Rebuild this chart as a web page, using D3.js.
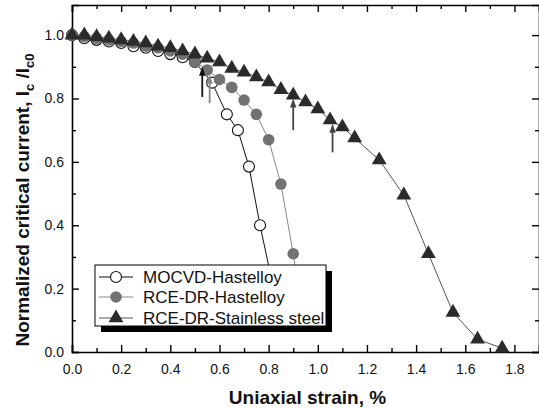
<!DOCTYPE html>
<html>
<head>
<meta charset="utf-8">
<script src="https://cdn.jsdelivr.net/npm/d3@7"></script>
<style>
  body { margin: 0; background: #fff; }
  svg { display: block; font-family: "Liberation Sans", Arial, sans-serif; }
</style>
</head>
<body>
<svg id="chart" width="539" height="408"></svg>
<script>
// MOCVD-Hastelloy (open circles)
var mocX = [0, 0.05, 0.1, 0.15, 0.2, 0.25, 0.3, 0.35, 0.4, 0.45, 0.5, 0.57, 0.63, 0.675, 0.72, 0.765, 0.82];
var mocY = [1.0, 0.99, 0.985, 0.98, 0.975, 0.965, 0.96, 0.95, 0.94, 0.93, 0.915, 0.85, 0.75, 0.70, 0.585, 0.40, 0.20];

// RCE-DR-Hastelloy (grey circles)
var hastX = [0, 0.05, 0.1, 0.15, 0.2, 0.25, 0.3, 0.35, 0.4, 0.45, 0.5, 0.55, 0.6, 0.65, 0.7, 0.75, 0.8, 0.85, 0.9, 0.93];
var hastY = [1.0, 0.995, 0.99, 0.985, 0.98, 0.975, 0.965, 0.96, 0.95, 0.94, 0.915, 0.89, 0.86, 0.835, 0.795, 0.75, 0.67, 0.53, 0.31, 0.15];

// RCE-DR-Stainless steel (triangles)
var steelX = [0, 0.05, 0.1, 0.15, 0.2, 0.25, 0.3, 0.35, 0.4, 0.45, 0.5, 0.55, 0.6, 0.65, 0.7, 0.75, 0.8, 0.85, 0.9, 0.95, 1.0, 1.05, 1.1, 1.15, 1.25, 1.35, 1.45, 1.55, 1.65, 1.75];
var steelY = [1.0, 1.0, 0.995, 0.99, 0.985, 0.98, 0.975, 0.965, 0.96, 0.95, 0.94, 0.927, 0.915, 0.895, 0.883, 0.868, 0.852, 0.828, 0.81, 0.789, 0.767, 0.732, 0.71, 0.675, 0.606, 0.495, 0.31, 0.125, 0.04, 0.012];

// arrows marking onset strains
var arrowX = [0.53, 0.56, 0.90, 1.06];
var arrowLo = [0.805, 0.785, 0.70, 0.63];
var arrowHi = [0.90, 0.875, 0.80, 0.72];
var arrowCol = ["#111", "#888", "#444", "#444"];

var legendNames = ["MOCVD-Hastelloy", "RCE-DR-Hastelloy", "RCE-DR-Stainless steel"];

var xMajor = [0, 0.2, 0.4, 0.6, 0.8, 1.0, 1.2, 1.4, 1.6, 1.8];
var xMinor = [0.1, 0.3, 0.5, 0.7, 0.9, 1.1, 1.3, 1.5, 1.7];
var yMajor = [0, 0.2, 0.4, 0.6, 0.8, 1.0];
var yMinor = [0.1, 0.3, 0.5, 0.7, 0.9];

var svg = d3.select("#chart");
var L = 72, R = 539, T = 5, B = 352;

var x = d3.scaleLinear().domain([0, 1.9]).range([L, R]);
var y = d3.scaleLinear().domain([0, 1.095]).range([B, T]);

function zip(xs, ys) { return xs.map(function(v, i) { return [v, ys[i]]; }); }
var moc = zip(mocX, mocY), hast = zip(hastX, hastY), steel = zip(steelX, steelY);

var line = d3.line().x(function(d) { return x(d[0]); }).y(function(d) { return y(d[1]); });

// axes, ticks inward on every side
var fmt = d3.format(".1f");
function addAxis(gen, tr, major, minor, labels) {
  var g = svg.append("g").attr("transform", tr);
  g.call(gen.tickValues(major).tickSize(-7).tickPadding(labels ? 12 : 0)
    .tickFormat(labels ? fmt : function() { return ""; }));
  var g2 = svg.append("g").attr("transform", tr);
  g2.call(gen.tickValues(minor).tickSize(-4).tickFormat(function() { return ""; }));
  g2.select(".domain").remove();
  [g, g2].forEach(function(s) {
    s.selectAll("path.domain").attr("stroke", "#000").attr("stroke-width", 1.6);
    s.selectAll(".tick line").attr("stroke", "#000").attr("stroke-width", 1.4);
    s.selectAll(".tick text").attr("font-size", 14).attr("fill", "#111")
      .attr("font-family", "'Liberation Sans', Arial, sans-serif");
  });
  return g;
}
addAxis(d3.axisBottom(x).tickSizeOuter(0), "translate(0," + B + ")", xMajor, xMinor, true);
addAxis(d3.axisTop(x).tickSizeOuter(0), "translate(0," + T + ")", xMajor, xMinor, false);
var ly = addAxis(d3.axisLeft(y).tickSizeOuter(0), "translate(" + L + ",0)", yMajor, yMinor, true);
ly.selectAll(".tick text").attr("dx", 4);
addAxis(d3.axisRight(y).tickSizeOuter(0), "translate(" + R + ",0)", yMajor, yMinor, false);

// series lines
svg.append("path").datum(moc).attr("d", line).attr("fill", "none").attr("stroke", "#111").attr("stroke-width", 1);
svg.append("path").datum(hast).attr("d", line).attr("fill", "none").attr("stroke", "#888").attr("stroke-width", 1);
svg.append("path").datum(steel).attr("d", line).attr("fill", "none").attr("stroke", "#555").attr("stroke-width", 1);

// markers
svg.append("g").selectAll("circle").data(moc).enter().append("circle")
  .attr("cx", function(d) { return x(d[0]); }).attr("cy", function(d) { return y(d[1]); })
  .attr("r", 5.5).attr("fill", "#fff").attr("stroke", "#111").attr("stroke-width", 1.1);
svg.append("g").selectAll("circle").data(hast).enter().append("circle")
  .attr("cx", function(d) { return x(d[0]); }).attr("cy", function(d) { return y(d[1]); })
  .attr("r", 5.8).attr("fill", "#727272");
var tri = d3.symbol().type(d3.symbolTriangle).size(95);
svg.append("g").selectAll("path").data(steel).enter().append("path")
  .attr("d", tri)
  .attr("transform", function(d) { return "translate(" + x(d[0]) + "," + y(d[1]) + ")"; })
  .attr("fill", "#2b2b2b");

// arrows
arrowX.forEach(function(v, i) {
  var ax = x(v), y0 = y(arrowLo[i]), y1 = y(arrowHi[i]);
  svg.append("line").attr("x1", ax).attr("x2", ax).attr("y1", y0).attr("y2", y1 + 8)
    .attr("stroke", arrowCol[i]).attr("stroke-width", 1.8);
  svg.append("path").attr("d", "M" + (ax - 3.2) + "," + (y1 + 9) + "L" + ax + "," + y1 + "L" + (ax + 3.2) + "," + (y1 + 9) + "Z")
    .attr("fill", arrowCol[i]);
});

// legend with shadow
var lgX = 95, lgY = 265, lgW = 231, lgH = 61;
svg.append("rect").attr("x", lgX + 6).attr("y", lgY + 6).attr("width", lgW).attr("height", lgH).attr("fill", "#000");
svg.append("rect").attr("x", lgX).attr("y", lgY).attr("width", lgW).attr("height", lgH)
  .attr("fill", "#fff").attr("stroke", "#000").attr("stroke-width", 1);
var rowY = [277, 297, 318];
var lineCols = ["#111", "#888", "#555"];
legendNames.forEach(function(name, i) {
  var ry = rowY[i];
  svg.append("line").attr("x1", 99).attr("x2", 133).attr("y1", ry).attr("y2", ry)
    .attr("stroke", lineCols[i]).attr("stroke-width", 1);
  if (i == 0) {
    svg.append("circle").attr("cx", 116).attr("cy", ry).attr("r", 5.5).attr("fill", "#fff").attr("stroke", "#111").attr("stroke-width", 1.1);
  } else if (i == 1) {
    svg.append("circle").attr("cx", 116).attr("cy", ry).attr("r", 5.8).attr("fill", "#727272");
  } else {
    svg.append("path").attr("d", tri).attr("transform", "translate(116," + ry + ")").attr("fill", "#2b2b2b");
  }
  svg.append("text").attr("x", 143).attr("y", ry + 6).attr("font-size", 17).attr("fill", "#111").text(name);
});

// axis titles
svg.append("text").attr("x", (L + R) / 2 + 2).attr("y", 404).attr("text-anchor", "middle")
  .attr("font-size", 19).attr("font-weight", "bold").attr("fill", "#111").text("Uniaxial strain, %");

var yt = svg.append("text").attr("transform", "translate(29,200) rotate(-90)").attr("text-anchor", "middle")
  .attr("font-size", 19).attr("font-weight", "bold").attr("fill", "#111");
yt.append("tspan").text("Normalized critical current, I");
yt.append("tspan").attr("font-size", 13).attr("dy", 5).text("c");
yt.append("tspan").attr("dy", -5).text(" /I");
yt.append("tspan").attr("font-size", 13).attr("dy", 5).text("c0");
</script>
</body>
</html>
